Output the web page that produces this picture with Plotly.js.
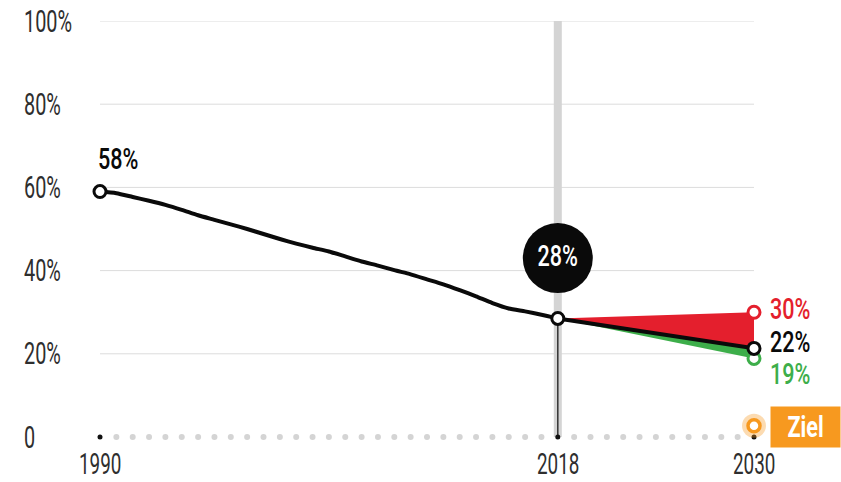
<!DOCTYPE html>
<html>
<head>
<meta charset="utf-8">
<script src="https://cdn.plot.ly/plotly-3.0.1.min.js"></script>
<style>
html,body{margin:0;padding:0;background:#fff;}
#chart{width:841px;height:482px;}
</style>
</head>
<body>
<div id="chart"></div>
<script>
// ---- data ----
const years = [1990,1991,1992,1993,1994,1995,1996,1997,1998,1999,2000,2001,2002,2003,2004,2005,2006,2007,2008,2009,2010,2011,2012,2013,2014,2015,2016,2017,2018];
const share = [59.0,58.6,57.7,56.8,55.8,54.6,53.3,52.2,51.1,50.0,48.8,47.6,46.5,45.5,44.6,43.4,42.2,41.2,40.1,39.1,37.9,36.7,35.3,33.8,32.2,30.9,30.2,29.4,28.5];
const projYears = [2018, 2030];
const trend = [28.5, 21.3];
const high = [28.5, 30.0];
const low = [28.5, 18.9];
const targetYear = 2030;
const targetValue = 2.7;
const yTicks = [0, 20, 40, 60, 80, 100];
const yTickText = ['0', '20%', '40%', '60%', '80%', '100%'];
const xTicks = [1990, 2018, 2030];
const xTickText = ['1990', '2018', '2030'];
const labelStart = '58%';
const labelNow = '28%';
const labelHigh = '30%';
const labelTrend = '22%';
const labelLow = '19%';
const labelTarget = 'Ziel';

// ---- styles ----
const FONT = 'Roboto, Liberation Sans, sans-serif';
const RED = '#e41f2d', GREEN = '#3dae4a', ORANGE = '#f7991f', BLACK = '#0a0a0a';
const YTICKFONT = {family: FONT, size: 31, color: '#2e2e2e', weight: 400};
const XTICKFONT = {family: FONT, size: 29.5, color: '#2e2e2e', weight: 400};
const VALFONT = 30;

const allYears = [];
for (let y = years[0]; y <= projYears[1]; y++) allYears.push(y);
const keyYears = [years[0], projYears[0], projYears[1]];
const greyDots = allYears.filter(y => keyYears.indexOf(y) < 0);

const traces = [
  {x: greyDots, y: greyDots.map(() => 0), mode: 'markers', type: 'scatter',
   marker: {size: 6, color: '#d4d4d4'}, hoverinfo: 'skip', cliponaxis: false},
  {x: keyYears, y: keyYears.map(() => 0), mode: 'markers', type: 'scatter',
   marker: {size: 5, color: '#111'}, hoverinfo: 'skip', cliponaxis: false},
  {x: [projYears[0], projYears[1], projYears[1]], y: [high[0], high[1], trend[1]],
   mode: 'lines', fill: 'toself', fillcolor: RED, line: {width: 0, color: RED}, type: 'scatter', hoverinfo: 'skip'},
  {x: [projYears[0], projYears[1], projYears[1]], y: [low[0], trend[1], low[1]],
   mode: 'lines', fill: 'toself', fillcolor: GREEN, line: {width: 0, color: GREEN}, type: 'scatter', hoverinfo: 'skip'},
  {x: projYears, y: trend, mode: 'lines', type: 'scatter', line: {color: BLACK, width: 4}, hoverinfo: 'skip'},
  {x: years, y: share, mode: 'lines', type: 'scatter', line: {color: BLACK, width: 4, shape: 'spline', smoothing: 0.6}, hoverinfo: 'skip'},
  {x: [projYears[0]], y: [43], mode: 'markers+text', type: 'scatter', text: [labelNow],
   textposition: 'middle center', textfont: {family: FONT, size: 30, color: '#fff', weight: 500},
   marker: {size: 70, color: BLACK}, hoverinfo: 'skip', cliponaxis: false},
  {x: [projYears[1]], y: [high[1]], mode: 'markers', type: 'scatter',
   marker: {size: 12, color: '#fff', line: {color: RED, width: 3}}, cliponaxis: false, hoverinfo: 'skip'},
  {x: [projYears[1]], y: [low[1]], mode: 'markers', type: 'scatter',
   marker: {size: 12, color: '#fff', line: {color: GREEN, width: 3}}, cliponaxis: false, hoverinfo: 'skip'},
  {x: [years[0], projYears[0], projYears[1]], y: [share[0], share[share.length-1], trend[1]], mode: 'markers', type: 'scatter',
   marker: {size: 12, color: '#fff', line: {color: BLACK, width: 3}}, cliponaxis: false, hoverinfo: 'skip'},
  {x: [targetYear], y: [targetValue], mode: 'markers', type: 'scatter',
   marker: {size: 24, color: 'rgba(247,153,31,0.35)'}, cliponaxis: false, hoverinfo: 'skip'},
  {x: [targetYear], y: [targetValue], mode: 'markers', type: 'scatter',
   marker: {size: 12, color: '#fff', line: {color: ORANGE, width: 3.5}}, cliponaxis: false, hoverinfo: 'skip'}
];

const shapes = [];
yTicks.filter(v => v > 0).forEach(v => {
  shapes.push({type: 'line', xref: 'x', yref: 'y', x0: xTicks[0], x1: xTicks[2], y0: v, y1: v,
    line: {color: '#dcdcdc', width: 1}, layer: 'below'});
});
shapes.push({type: 'line', xref: 'x', yref: 'y', x0: projYears[0], x1: projYears[0], y0: 0, y1: 100.7,
  line: {color: '#d4d4d4', width: 8}, layer: 'below'});
shapes.push({type: 'line', xref: 'x', yref: 'y', x0: projYears[0], x1: projYears[0], y0: 0, y1: share[share.length-1],
  line: {color: '#333', width: 1.5}, layer: 'below'});

const annotations = [];
yTicks.forEach((v, i) => {
  annotations.push({xref: 'paper', yref: 'y', x: -0.1193, y: v, text: yTickText[i], showarrow: false,
    xanchor: 'left', align: 'left', yanchor: 'middle', font: YTICKFONT});
});
xTicks.forEach((v, i) => {
  annotations.push({xref: 'x', yref: 'paper', x: v, y: -0.066, text: xTickText[i], showarrow: false,
    xanchor: 'center', yanchor: 'middle', font: XTICKFONT});
});
function valLabel(x, y, text, color, xshift, yshift) {
  return {x: x, y: y, text: text, showarrow: false, xanchor: 'left', align: 'left', yanchor: 'middle',
    xshift: xshift, yshift: yshift, font: {family: FONT, size: VALFONT, color: color, weight: 500}};
}
annotations.push(valLabel(years[0], share[0], labelStart, BLACK, -4, 33));
annotations.push(valLabel(projYears[1], high[1], labelHigh, RED, 14, 4));
annotations.push(valLabel(projYears[1], trend[1], labelTrend, BLACK, 14, 7));
annotations.push(valLabel(projYears[1], low[1], labelLow, GREEN, 14, -15));
annotations.push({x: targetYear, y: targetValue, text: labelTarget, showarrow: false, xanchor: 'left', yanchor: 'middle',
  xshift: 16, yshift: -1, bgcolor: ORANGE, borderpad: 4, width: 61, height: 32, align: 'center',
  font: {family: FONT, size: 30, color: '#fff', weight: 700}});

const layout = {
  width: 841, height: 482,
  margin: {l: 100, r: 87, t: 21, b: 45, pad: 0},
  paper_bgcolor: '#fff', plot_bgcolor: '#fff',
  showlegend: false,
  xaxis: {range: [1990, 2030], showgrid: false, zeroline: false, showline: false, showticklabels: false, ticks: '', fixedrange: true},
  yaxis: {range: [0, 100], showgrid: false, zeroline: false, showline: false, showticklabels: false, ticks: '', fixedrange: true},
  shapes: shapes,
  annotations: annotations,
  font: {family: FONT}
};

// squeeze glyphs horizontally to imitate the condensed typeface of the original
function condense() {
  document.querySelectorAll('#chart svg text').forEach(t => {
    if (!t.textContent.trim()) return;
    const w = parseInt(t.style.fontWeight || '400', 10);
    const scale = w >= 500 ? 0.72 : 0.64;
    const bb = t.getBBox();
    const anchor = t.getAttribute('text-anchor') || 'start';
    const ox = anchor === 'middle' ? bb.x + bb.width / 2 : anchor === 'end' ? bb.x + bb.width : bb.x;
    const prev = t.getAttribute('transform') || '';
    t.setAttribute('transform', prev + ' translate(' + ox + ',0) scale(' + scale + ',1) translate(' + (-ox) + ',0)');
  });
}

Plotly.newPlot('chart', traces, layout, {displayModeBar: false, staticPlot: true}).then(() => condense());
</script>
</body>
</html>
